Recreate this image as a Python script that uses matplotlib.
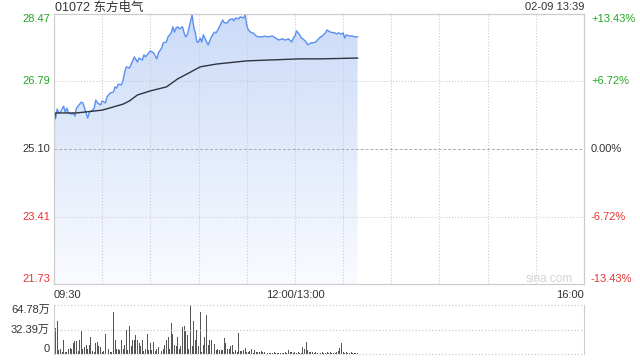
import numpy as np
import matplotlib.pyplot as plt
import matplotlib
from matplotlib.colors import LinearSegmentedColormap

matplotlib.rcParams['font.family'] = ['Liberation Sans', 'Noto Sans CJK SC']
matplotlib.rcParams['font.size'] = 8

title = '01072 东方电气'
stamp = '02-09 13:39'

# price axis (left) and change axis (right)
price_ticks = [21.73, 23.41, 25.10, 26.79, 28.47]
price_labels = ['21.73', '23.41', '25.10', '26.79', '28.47']
pct_ticks = [-13.43, -6.72, 0.0, 6.72, 13.43]
pct_labels = ['-13.43%', '-6.72%', '0.00%', '+6.72%', '+13.43%']

# trading minutes from 09:30 (lunch break removed), 330 in total
time_pos = [0, 150, 330]
time_labels = ['09:30', '12:00/13:00', '16:00']
grid_times = [30, 60, 90, 120, 150, 180, 210, 240, 270, 300]

# minute price
price_t = [0, 1, 2, 3, 4, 6, 7, 8, 9, 11, 12, 13, 14, 17, 18, 21, 22, 24, 25, 26,
           27, 29, 30, 32, 33, 35, 37, 38, 39, 40, 42, 43, 44, 45, 47, 49, 50, 52, 53, 55,
           56, 57, 59, 60, 62, 64, 65, 67, 68, 70, 71, 72, 73, 74, 75, 76, 77, 78, 80, 81,
           82, 83, 84, 86, 87, 88, 89, 90, 91, 92, 93, 94, 95, 96, 98, 100, 101, 103, 105, 106,
           108, 109, 111, 112, 113, 115, 116, 118, 119, 120, 121, 123, 124, 126, 127, 130, 131, 133, 136, 138,
           140, 142, 144, 146, 148, 149, 150, 151, 153, 154, 155, 157, 158, 160, 161, 163, 164, 166, 167, 169,
           170, 172, 174, 175, 176, 177, 179, 180, 181, 182, 184, 186, 187, 189]
price = [25.82, 25.87, 26.10, 26.00, 26.02, 26.17, 26.02, 26.12, 26.00, 25.97, 26.00, 25.92, 26.12, 26.27, 26.25, 25.87, 26.02, 26.07, 26.12, 26.32,
         26.25, 26.20, 26.30, 26.25, 26.40, 26.50, 26.52, 26.65, 26.62, 26.72, 26.70, 26.82, 27.02, 27.15, 27.12, 27.30, 27.40, 27.27, 27.37, 27.32,
         27.45, 27.40, 27.50, 27.55, 27.50, 27.35, 27.50, 27.62, 27.75, 27.77, 27.90, 27.95, 28.00, 28.15, 28.02, 28.12, 28.15, 28.10, 28.15, 28.00,
         27.90, 27.95, 28.12, 28.45, 28.15, 28.00, 27.77, 27.77, 27.87, 27.77, 27.95, 27.87, 27.77, 27.70, 27.90, 28.02, 28.00, 28.15, 28.32, 28.25,
         28.25, 28.32, 28.35, 28.30, 28.37, 28.35, 28.40, 28.37, 28.45, 28.20, 28.07, 28.00, 28.00, 27.92, 27.90, 27.90, 27.92, 27.90, 27.92, 27.87,
         27.82, 27.85, 27.82, 27.85, 27.77, 27.87, 27.92, 28.05, 27.95, 27.87, 27.85, 27.77, 27.70, 27.75, 27.75, 27.77, 27.82, 27.90, 27.92, 28.00,
         28.07, 28.02, 28.00, 28.00, 27.97, 28.00, 27.97, 28.00, 27.87, 27.95, 27.92, 27.92, 27.90, 27.90]

# average price line
avg_t = [0, 1, 14, 30, 43, 47, 52, 60, 70, 77, 85, 91, 101, 120, 153, 166, 189]
avg_p = [25.82, 26.00, 26.00, 26.07, 26.22, 26.30, 26.45, 26.55, 26.65, 26.85, 27.02, 27.15, 27.22, 27.30, 27.35, 27.35, 27.37]

# volume per minute (万股)
volume = [3, 34, 44, 5, 7, 3, 18.5, 3, 3, 7,
          8, 7, 14, 17, 17, 4, 18.5, 31, 6, 9,
          12, 6, 12, 23, 4, 3, 14, 16, 11, 9,
          3, 4, 26, 25, 6, 3, 2, 55, 19, 7,
          6, 5, 18.5, 7, 12, 32, 5, 37, 10, 19,
          18.5, 25, 18.5, 14, 10, 18.5, 4, 7, 26, 5,
          14, 5, 16, 4, 7, 9, 10, 4, 7, 12,
          18.5, 23, 7, 40.5, 27, 12, 10, 23, 7, 10,
          36, 37, 30, 25, 6, 64.78, 10, 43, 18.5, 32,
          10, 55, 3, 12, 23, 52, 12, 18.5, 19, 7.5,
          13, 5, 6, 5, 5, 5, 21, 14, 6, 6,
          10, 12, 3, 5, 2, 28, 4.4, 4.4, 5, 7.5,
          3, 3, 4, 6, 1, 5, 2, 3, 2, 4,
          2, 2, 2, 1, 1, 1, 1, 2.5, 1, 1,
          1.5, 1, 1, 1.5, 2.5, 1, 5, 3, 3, 1.5,
          3, 1.5, 3, 1.5, 1.5, 9.5, 6, 16, 5, 2,
          2, 3, 1.5, 3, 1, 2.5, 1.5, 2.5, 1.5, 1.5,
          2.5, 1.5, 2.5, 1, 1.5, 1.5, 2.5, 4.4, 7.5, 14,
          3, 1.5, 2.5, 1.5, 1, 2.5, 1.5, 1, 1, 1]
vol_ticks = [0, 32.39, 64.78]
vol_labels = ['0', '32.39万', '64.78万']

green = '#22a822'
red = '#e8332f'
grid_c = '#cccccc'

fig = plt.figure(figsize=(6.4, 3.6), dpi=100)
ax = fig.add_axes([54/640, 1-284/360, 530/640, 270/360])
axv = fig.add_axes([54/640, 1-354/360, 530/640, 49/360])

# gradient area under the price line
cmap = LinearSegmentedColormap.from_list('fade', ['#fafbff', '#cbdbf8'])
area = ax.fill_between(price_t, price, price_ticks[0], color='none', lw=0)
grad = ax.imshow(np.linspace(0, 1, 256).reshape(-1, 1), cmap=cmap, aspect='auto',
                 extent=[0, 330, price_ticks[0], price_ticks[-1]], origin='lower', zorder=1)
grad.set_clip_path(area.get_paths()[0], transform=ax.transData)

ax.plot(price_t, price, color='#5b8ff0', lw=1, zorder=3)
ax.plot(avg_t, avg_p, color='#2e3440', lw=1, zorder=3)

for t in grid_times:
    ax.axvline(t, color=grid_c, ls=':', lw=0.8, zorder=2)
for v in [price_ticks[1], price_ticks[3]]:
    ax.axhline(v, color=grid_c, ls=':', lw=0.8, zorder=2)
ax.axhline(price_ticks[2], color='#aaaaaa', ls=(0, (3, 2)), lw=0.7, zorder=2)

ax.set_xlim(0, 330)
ax.set_ylim(price_ticks[0], price_ticks[-1])
for s in ax.spines.values():
    s.set_color(grid_c)

ax.set_yticks(price_ticks, price_labels)
ax.tick_params(axis='y', length=0, pad=3)
cols = [red, red, '#333333', green, green]
vas = ['bottom', 'center', 'center', 'center', 'top']
for lab, c, va in zip(ax.get_yticklabels(), cols, vas):
    lab.set_color(c)
    lab.set_va(va)

ax.set_xticks(time_pos, time_labels)
ax.tick_params(axis='x', length=0, pad=4, colors='#333333')
for lab, ha in zip(ax.get_xticklabels(), ['left', 'center', 'right']):
    lab.set_ha(ha)

ax2 = ax.twinx()
ax2.set_ylim(pct_ticks[0], pct_ticks[-1])
ax2.set_yticks(pct_ticks, pct_labels)
ax2.tick_params(axis='y', length=0, pad=5)
for lab, c, va in zip(ax2.get_yticklabels(), cols, vas):
    lab.set_color(c)
    lab.set_va(va)
for s in ax2.spines.values():
    s.set_color(grid_c)

ax.text(0.979, 0.0185, 'sina.com', color='#d3d3d3', ha='right', va='center',
        transform=ax.transAxes, fontsize=8.5)

fig.text(55/640, 1-8/360, title, ha='left', va='center', color='#333333', fontsize=9)
fig.text(584/640, 1-7/360, stamp, ha='right', va='center', color='#333333', fontsize=8)

# volume panel
axv.bar(range(len(volume)), volume, width=0.6, color='#555555')
for v in vol_ticks:
    axv.axhline(v, color=grid_c, ls=':', lw=0.9, clip_on=False)
axv.set_xlim(0, 330)
axv.set_ylim(0, vol_ticks[-1])
axv.set_xticks([])
axv.set_yticks(vol_ticks, vol_labels)
axv.tick_params(axis='y', length=0, pad=3, colors='#333333')
for lab, va in zip(axv.get_yticklabels(), ['bottom', 'center', 'top']):
    lab.set_va(va)
axv.spines['top'].set_visible(False)
axv.spines['bottom'].set_visible(False)
axv.spines['left'].set_color(grid_c)
axv.spines['right'].set_color(grid_c)

plt.savefig('out.png', dpi=100)
